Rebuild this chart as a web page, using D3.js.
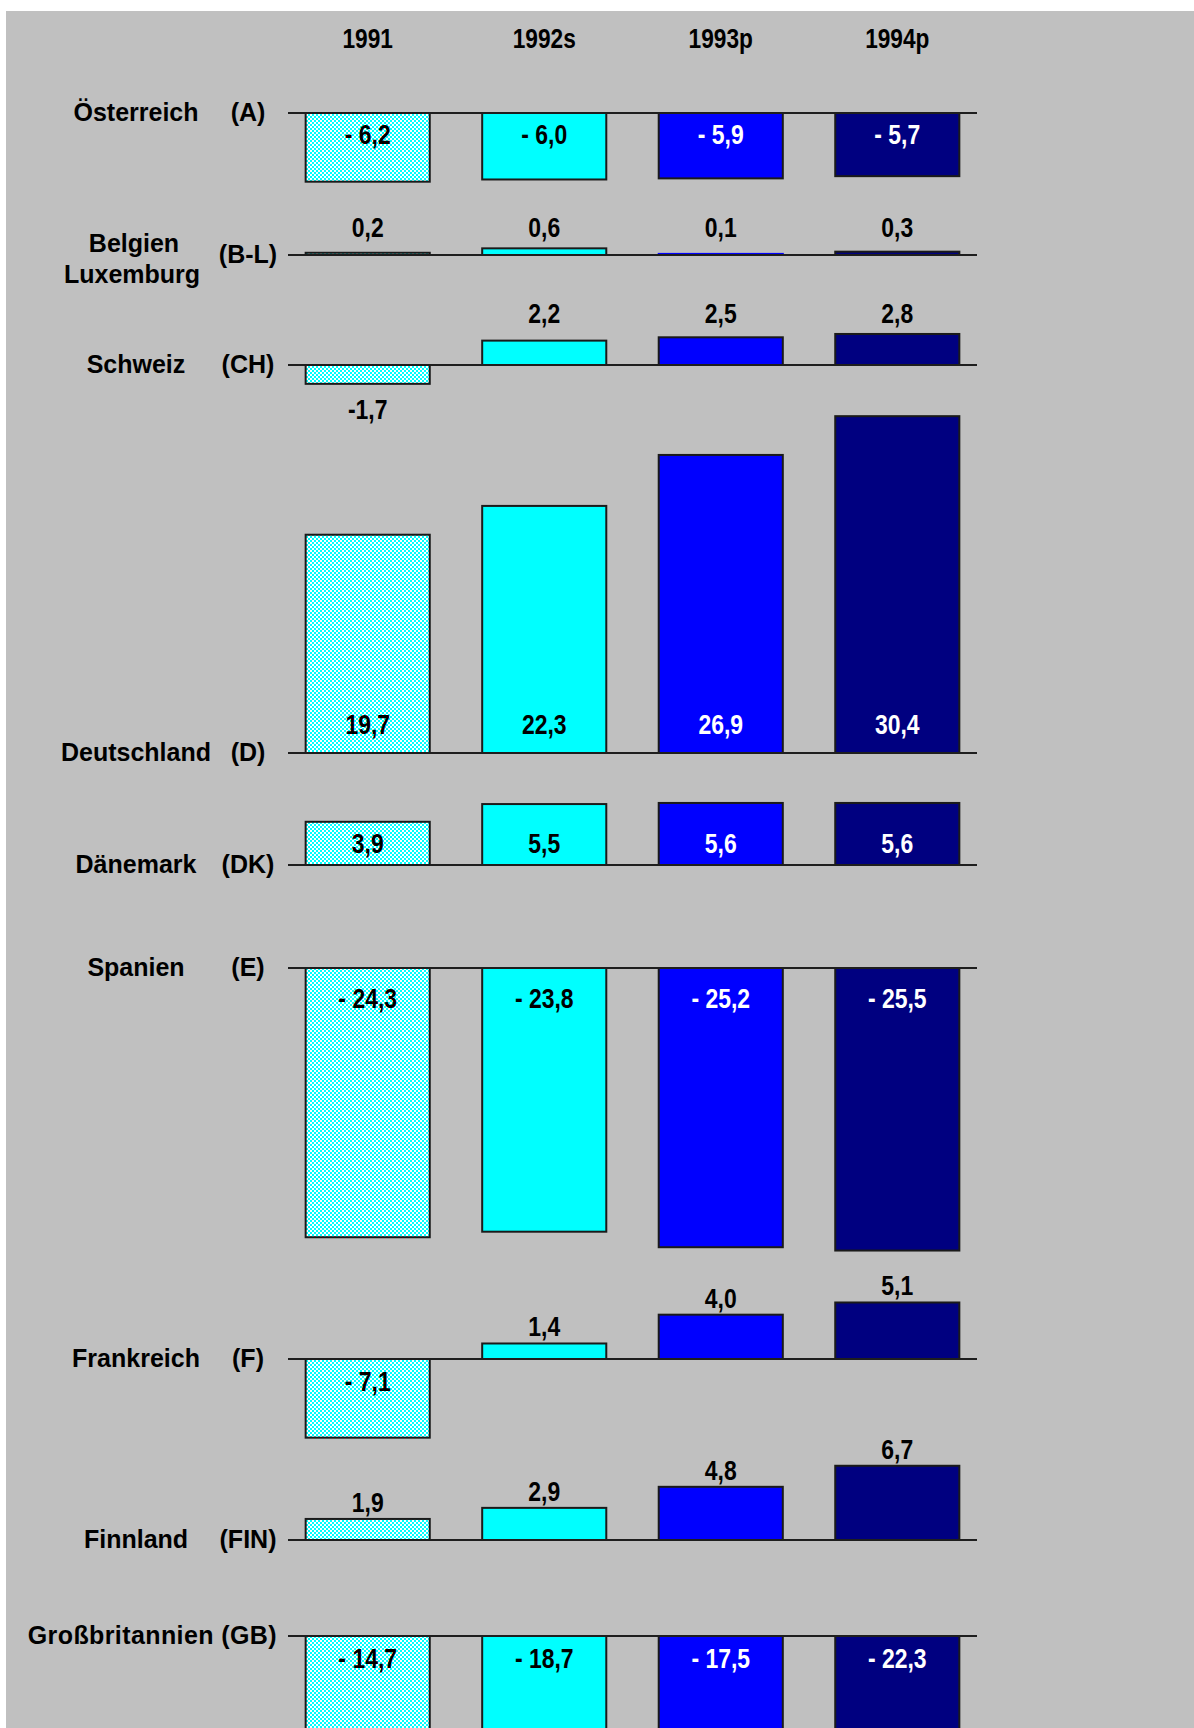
<!DOCTYPE html>
<html>
<head>
<meta charset="utf-8">
<script src="https://cdn.jsdelivr.net/npm/d3@7"></script>
<style>
  body { margin: 0; background: #fff; }
  svg text { font-family: "Liberation Sans", Arial, sans-serif; font-weight: bold; }
</style>
</head>
<body>
<div id="chart"></div>
<script>
// Data
const years = ["1991", "1992s", "1993p", "1994p"];
const countries = ["Österreich", "Belgien Luxemburg", "Schweiz", "Deutschland", "Dänemark",
    "Spanien", "Frankreich", "Finnland", "Großbritannien"];
const codes = ["(A)", "(B-L)", "(CH)", "(D)", "(DK)", "(E)", "(F)", "(FIN)", "(GB)"];
const values1991 = [-6.2, 0.2, -1.7, 19.7, 3.9, -24.3, -7.1, 1.9, -14.7];
const values1992 = [-6.0, 0.6, 2.2, 22.3, 5.5, -23.8, 1.4, 2.9, -18.7];
const values1993 = [-5.9, 0.1, 2.5, 26.9, 5.6, -25.2, 4.0, 4.8, -17.5];
const values1994 = [-5.7, 0.3, 2.8, 30.4, 5.6, -25.5, 5.1, 6.7, -22.3];
const series = [values1991, values1992, values1993, values1994];

// Layout: baseline of every country row and where its value labels sit
const svgWidth = 1194;
const svgHeight = 1728;
const rowBase = [113, 255, 365, 753, 865, 968, 1359, 1540, 1636];
const labelRule = [
    { neg: "in", off: 31 },
    { pos: "row" },
    { neg: "out", pos: "row" },
    { pos: "in", off: 19 },
    { pos: "in", off: 12 },
    { neg: "in", off: 40 },
    { neg: "in", pos: "out", off: 32 },
    { pos: "out" },
    { neg: "in", off: 32 }
];
const barFill = ["url(#dither)", "#00ffff", "#0000ff", "#000080"];
const thinStroke = ["#1a1a1a", "#1a1a1a", "#0000ff", "#000080"];
const insideText = ["#000", "#000", "#fff", "#fff"];

const svg = d3.select("#chart")
    .append("svg")
    .attr("width", svgWidth)
    .attr("height", svgHeight);

// dithered light cyan for 1991
const pat = svg.append("defs").append("pattern")
    .attr("id", "dither")
    .attr("width", 4).attr("height", 4)
    .attr("patternUnits", "userSpaceOnUse");
pat.append("rect").attr("width", 4).attr("height", 4).attr("fill", "#00ffff");
pat.append("rect").attr("width", 2).attr("height", 2).attr("fill", "#ffffff");
pat.append("rect").attr("x", 2).attr("y", 2).attr("width", 2).attr("height", 2).attr("fill", "#ffffff");

// gray panel
svg.append("rect")
    .attr("x", 6).attr("y", 11)
    .attr("width", svgWidth - 6).attr("height", svgHeight - 11)
    .attr("fill", "#c0c0c0");

// scales
const x = d3.scaleBand()
    .domain(years)
    .range([288, 977])
    .paddingInner(0.297)
    .paddingOuter(0.1);

const yUnit = d3.scaleLinear()
    .domain([0, 30])
    .range([0, -332.4]);

// flatten
const bars = [];
countries.forEach((c, i) => {
    years.forEach((yr, j) => {
        bars.push({ row: i, j: j, year: yr, v: series[j][i] });
    });
});

const fmt = v => Math.abs(v).toFixed(1).replace(".", ",");
const barH = d => Math.abs(yUnit(d.v) - yUnit(0));

// bars
svg.append("g").selectAll("rect")
    .data(bars)
    .enter()
    .append("rect")
    .attr("x", d => x(d.year))
    .attr("y", d => rowBase[d.row] + Math.min(yUnit(d.v), yUnit(0)))
    .attr("width", x.bandwidth())
    .attr("height", barH)
    .attr("fill", d => barFill[d.j])
    .attr("stroke", d => barH(d) < 2 ? thinStroke[d.j] : "#1a1a1a")
    .attr("stroke-width", 2);

// baselines
svg.append("g").selectAll("line")
    .data(rowBase)
    .enter()
    .append("line")
    .attr("x1", x.range()[0])
    .attr("x2", x.range()[1])
    .attr("y1", d => d)
    .attr("y2", d => d)
    .attr("stroke", "#1e1e1e")
    .attr("stroke-width", 2);

// value labels
function labelInfo(d) {
    const base = rowBase[d.row];
    const rule = labelRule[d.row];
    const end = base + yUnit(d.v);
    if (d.v < 0) {
        if (rule.neg === "in") return { y: base + rule.off, t: "- " + fmt(d.v), c: insideText[d.j] };
        return { y: end + 35, t: "-" + fmt(d.v), c: "#000" };
    }
    if (rule.pos === "in") return { y: base - rule.off, t: fmt(d.v), c: insideText[d.j] };
    if (rule.pos === "row") {
        const rowMax = d3.max(series, s => s[d.row]);
        return { y: base + yUnit(rowMax) - 11, t: fmt(d.v), c: "#000" };
    }
    return { y: end - 7, t: fmt(d.v), c: "#000" };
}

svg.append("g").selectAll("text")
    .data(bars)
    .enter()
    .append("text")
    .attr("transform", d => `translate(${x(d.year) + x.bandwidth() / 2}, ${labelInfo(d).y}) scale(0.85, 1)`)
    .attr("text-anchor", "middle")
    .attr("font-size", "27px")
    .attr("fill", d => labelInfo(d).c)
    .text(d => labelInfo(d).t);

// year headers
svg.append("g").selectAll("text")
    .data(years)
    .enter()
    .append("text")
    .attr("transform", d => `translate(${x(d) + x.bandwidth() / 2}, 48) scale(0.81, 1)`)
    .attr("text-anchor", "middle")
    .attr("font-size", "28px")
    .attr("fill", "#000")
    .text(d => d);

// country names and codes
const names = svg.append("g").attr("font-size", "25px").attr("fill", "#000");
countries.forEach((c, i) => {
    const base = rowBase[i];
    if (codes[i] === "(GB)") {
        names.append("text")
            .attr("x", 277).attr("y", base + 8)
            .attr("text-anchor", "end")
            .attr("letter-spacing", "0.4px")
            .text(c + " " + codes[i]);
        return;
    }
    const parts = c.split(" ");
    if (parts.length > 1) {
        names.append("text").attr("x", 134).attr("y", base - 3)
            .attr("text-anchor", "middle").text(parts[0]);
        names.append("text").attr("x", 132).attr("y", base + 28)
            .attr("text-anchor", "middle").text(parts[1]);
    } else {
        names.append("text").attr("x", 136).attr("y", base + 8)
            .attr("text-anchor", "middle").text(c);
    }
    names.append("text")
        .attr("x", 248).attr("y", base + 8)
        .attr("text-anchor", "middle")
        .text(codes[i]);
});
</script>
</body>
</html>
